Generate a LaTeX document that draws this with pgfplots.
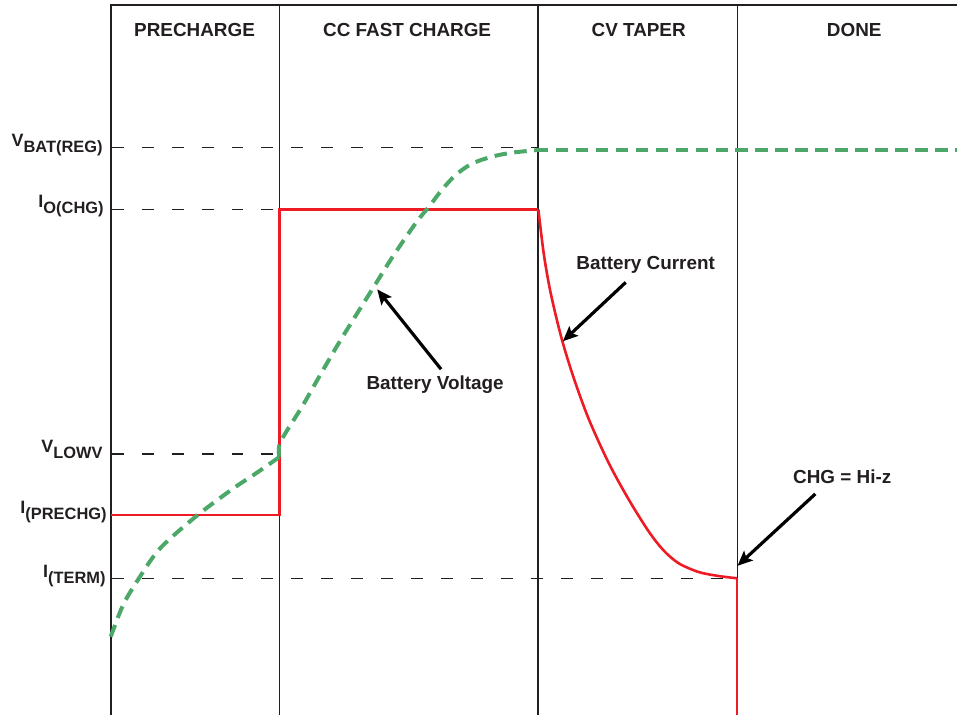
\documentclass[border=0pt]{standalone}
\usepackage{pgfplots}
\pgfplotsset{compat=1.18}
\usepackage{fontspec}
\setmainfont{Liberation Sans}
\usetikzlibrary{arrows.meta}
\definecolor{txt}{HTML}{231F20}
\definecolor{vred}{HTML}{ED1C24}
\definecolor{vgreen}{RGB}{76,168,104}
\newcommand{\lab}[2]{{\fontsize{18}{20}\selectfont\bfseries #1\raisebox{-6bp}{\fontsize{16.5}{18}\selectfont #2}}}
\newcommand{\bigf}{\fontsize{19}{22}\selectfont\bfseries}
\begin{document}
\begin{tikzpicture}
\begin{axis}[
  x=1bp, y=1bp,
  xmin=111, xmax=959, ymin=-716, ymax=-5,
  hide axis, clip=false,
]
% page extent
\path (axis cs:0,0) (axis cs:959,-716);
% frame
\addplot[txt, line width=1.8bp] coordinates {(111,-716) (111,-5) (959,-5)};
\addplot[txt, line width=1.8bp] coordinates {(280,-5) (280,-716)};
\addplot[txt, line width=1.8bp] coordinates {(539,-5) (539,-716)};
\addplot[txt, line width=1.8bp] coordinates {(739,-5) (739,-716)};
% reference dashed lines
\addplot[txt, line width=1.3bp, dash pattern=on 12bp off 18bp] coordinates {(112,-148) (539,-148)};
\addplot[txt, line width=1.3bp, dash pattern=on 12bp off 18bp] coordinates {(112,-210) (280,-210)};
\addplot[txt, line width=1.3bp, dash pattern=on 12bp off 18bp] coordinates {(112,-455) (280,-455)};
\addplot[txt, line width=1.3bp, dash pattern=on 12bp off 18bp] coordinates {(112,-579.5) (739,-579.5)};
% battery current
\addplot[vred, line width=2.6bp] coordinates {(111,-516) (280,-516) (280,-210) (539.5,-210)};
\addplot[vred, line width=2.6bp, smooth, tension=0.5] coordinates {(539.5,-210) (545,-255) (552,-294.5) (563,-340) (575,-379) (590,-420) (610,-464) (630,-500.5) (650,-532.5) (665,-551.6) (680,-564.4) (700,-573.2) (720,-577.2) (738.5,-579.5)};
\addplot[vred, line width=2.6bp] coordinates {(738.5,-579.5) (738.5,-716)};
% battery voltage
\addplot[vgreen, line width=4bp, dash pattern=on 12.5bp off 7.5bp, smooth, tension=0.5] coordinates {(111,-638) (123,-607) (137,-583) (160,-550) (197,-517) (233,-490) (257,-474) (280,-458)};
\addplot[vgreen, line width=4bp, dash pattern=on 12.5bp off 7.5bp, smooth, tension=0.5] coordinates {(280,-458) (281,-443) (303,-407) (323,-372) (343,-338) (373,-290) (393,-258) (417,-223) (430,-207) (443,-190) (457,-175) (473,-164) (493,-157) (513,-153) (537,-150.5)};
\addplot[vgreen, line width=4bp, dash pattern=on 12.5bp off 7.5bp] coordinates {(537,-150.5) (959,-150.5)};
% headers
\node[anchor=base, txt] at (axis cs:195,-37) {\bigf PRECHARGE};
\node[anchor=base, txt] at (axis cs:408,-37) {\bigf CC FAST CHARGE};
\node[anchor=base, txt] at (axis cs:640,-37) {\bigf CV TAPER};
\node[anchor=base, txt] at (axis cs:856,-37) {\bigf DONE};
% left labels
\node[anchor=base east, txt, inner sep=0pt] at (axis cs:103,-147) {\lab{V}{BAT(REG)}};
\node[anchor=base east, txt, inner sep=0pt] at (axis cs:104,-208) {\lab{I}{O(CHG)}};
\node[anchor=base east, txt, inner sep=0pt] at (axis cs:103,-453) {\lab{V}{LOWV}};
\node[anchor=base east, txt, inner sep=0pt] at (axis cs:107,-515) {\lab{I}{(PRECHG)}};
\node[anchor=base east, txt, inner sep=0pt] at (axis cs:106,-579) {\lab{I}{(TERM)}};
% annotations
\node[anchor=base, txt] at (axis cs:647,-270) {\bigf Battery Current};
\node[anchor=base, txt] at (axis cs:436,-390) {\bigf Battery Voltage};
\node[anchor=base, txt] at (axis cs:844,-485) {\bigf CHG = Hi-z};
\draw[black, line width=3.2bp, -{Stealth[length=15bp,width=13bp,inset=3bp]}] (axis cs:442,-370) -- (axis cs:378,-290);
\draw[black, line width=3.2bp, -{Stealth[length=15bp,width=13bp,inset=3bp]}] (axis cs:627,-283) -- (axis cs:564,-342);
\draw[black, line width=3.2bp, -{Stealth[length=15bp,width=13bp,inset=3bp]}] (axis cs:817,-495) -- (axis cs:739,-567);
\end{axis}
\end{tikzpicture}
\end{document}
